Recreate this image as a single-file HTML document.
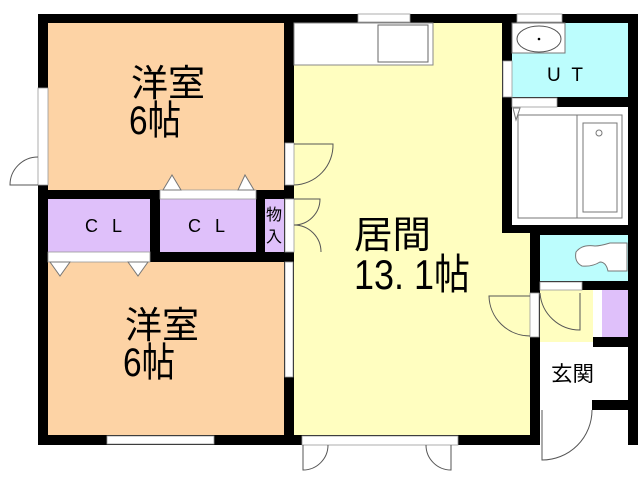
<!DOCTYPE html>
<html><head><meta charset="utf-8"><style>
html,body{margin:0;padding:0;background:#fff;width:640px;height:480px;overflow:hidden}
svg text{font-family:"Liberation Sans","Noto Sans CJK JP",sans-serif;fill:#000}
</style></head><body>
<svg width="640" height="480" viewBox="0 0 640 480" xmlns="http://www.w3.org/2000/svg">
<rect x="38" y="14" width="600" height="431" fill="#000"/>
<rect x="48" y="23" width="236" height="167" fill="#fdd3a5"/>
<rect x="48" y="199" width="102" height="53" fill="#dfc0fa"/>
<rect x="160" y="199" width="96" height="53" fill="#dfc0fa"/>
<rect x="265" y="199" width="19" height="53" fill="#dfc0fa"/>
<rect x="48" y="262" width="236" height="173" fill="#fdd3a5"/>
<rect x="294" y="23" width="208" height="412" fill="#fffec0"/>
<rect x="502" y="233" width="28" height="202" fill="#fffec0"/>
<rect x="512" y="23" width="116" height="74" fill="#bcfdfd"/>
<rect x="512" y="107" width="116" height="118" fill="#fff"/>
<rect x="518" y="115" width="104" height="103" fill="#fff" stroke="#777"/>
<line x1="577" y1="115" x2="577" y2="218" stroke="#777"/>
<rect x="583" y="123" width="34" height="89" fill="#fff" stroke="#777"/>
<circle cx="599" cy="133" r="3" fill="none" stroke="#777"/>
<path d="M513 108 L520 108 L516 120 Z" fill="#fff" stroke="#777"/>
<rect x="540" y="235" width="88" height="46" fill="#bcfdfd"/>
<path d="M627 243 L610 243 Q600 246 595 246 Q582 244 576 252 Q574 262 582 266 Q592 267 600 262 Q606 262 608 271 L627 271 Z" fill="#fff" stroke="#777"/>
<rect x="540" y="290" width="53" height="52" fill="#fffec0"/>
<rect x="593" y="290" width="9" height="47" fill="#fff"/>
<rect x="602" y="290" width="26" height="47" fill="#dfc0fa"/>
<rect x="540" y="347" width="88" height="53" fill="#fff"/>
<rect x="540" y="342" width="53" height="5" fill="#fff"/>
<rect x="540" y="400" width="52" height="10" fill="#fff"/>
<rect x="540" y="410" width="88" height="70" fill="#fff"/>
<rect x="628" y="410" width="10" height="35" fill="#000"/>
<rect x="294" y="23" width="139" height="42" fill="#fff" stroke="#888"/>
<rect x="378" y="25" width="50" height="37" fill="#fff" stroke="#666"/>
<rect x="358" y="14" width="52" height="8" fill="#fff" stroke="#999" stroke-width="0.8"/>
<rect x="517" y="14" width="45" height="8" fill="#fff" stroke="#999" stroke-width="0.8"/>
<rect x="38" y="88" width="10" height="97" fill="#fff" stroke="#999" stroke-width="0.8"/>
<rect x="107" y="436" width="107" height="8" fill="#fff" stroke="#999" stroke-width="0.8"/>
<rect x="302" y="436" width="156" height="9" fill="#fff" stroke="#999" stroke-width="0.8"/>
<rect x="285" y="262" width="8" height="115" fill="#fff" stroke="#999" stroke-width="0.8"/>
<rect x="512" y="23" width="53" height="30" fill="#fff" stroke="#777"/>
<ellipse cx="539" cy="39" rx="22" ry="13" fill="#fff" stroke="#555"/>
<circle cx="539" cy="39" r="1.3" fill="#000"/>
<rect x="503" y="61" width="9" height="36" fill="#fff" stroke="#999" stroke-width="0.8"/>
<rect x="512" y="98" width="45" height="9" fill="#fff" stroke="#999" stroke-width="0.8"/>
<rect x="540" y="282" width="42" height="8" fill="#fff" stroke="#999" stroke-width="0.8"/>
<rect x="285" y="143" width="9" height="42" fill="#fff" stroke="#999" stroke-width="0.8"/>
<path d="M294 144 L333 144 A40 40 0 0 1 294 185" fill="none" stroke="#555"/>
<rect x="285" y="199" width="9" height="53" fill="#fff" stroke="#999" stroke-width="0.8"/>
<path d="M294 199 L320 199 A26 26 0 0 1 294 225 M294 225 A27 27 0 0 1 321 252" fill="none" stroke="#555"/>
<path d="M38 157 A28 28 0 0 0 10 185 L38 185" fill="none" stroke="#555"/>
<rect x="160" y="190" width="96" height="9" fill="#fff" stroke="#999" stroke-width="0.8"/>
<path d="M163 190 L172 175 L181 190 Z M238 190 L245 175 L254 190 Z" fill="#fff" stroke="#777"/>
<rect x="48" y="252" width="102" height="10" fill="#fff" stroke="#999" stroke-width="0.8"/>
<path d="M50 262 L60 276 L70 262 Z M128 262 L138 276 L148 262 Z" fill="#fff" stroke="#777"/>
<rect x="530" y="293" width="9" height="44" fill="#fff" stroke="#999" stroke-width="0.8"/>
<path d="M530 336 A41 41 0 0 1 489 296 L530 296" fill="none" stroke="#555"/>
<path d="M540 293 A40 40 0 0 0 580 330 L580 293" fill="none" stroke="#555"/>
<path d="M542 410 L542 460 A50 50 0 0 0 592 410" fill="none" stroke="#555"/>
<path d="M303 445 L303 470 A25 25 0 0 0 328 445" fill="none" stroke="#555"/>
<path d="M451 445 L451 470 A25 25 0 0 1 426 445" fill="none" stroke="#555"/>
<!-- text -->
<text x="131" y="96" font-size="37" textLength="74" lengthAdjust="spacingAndGlyphs">洋室</text>
<text x="129" y="134" font-size="40" textLength="52" lengthAdjust="spacingAndGlyphs">6帖</text>
<text x="125" y="338" font-size="37" textLength="74" lengthAdjust="spacingAndGlyphs">洋室</text>
<text x="123" y="376" font-size="40" textLength="52" lengthAdjust="spacingAndGlyphs">6帖</text>
<text x="85" y="232" font-size="18" textLength="37" lengthAdjust="spacing">C L</text>
<text x="188" y="232" font-size="18" textLength="37" lengthAdjust="spacing">C L</text>
<text x="266" y="220" font-size="16">物</text>
<text x="266" y="242" font-size="16">入</text>
<text x="354" y="248" font-size="38" textLength="77" lengthAdjust="spacingAndGlyphs">居間</text>
<text x="354" y="289" font-size="42" textLength="116" lengthAdjust="spacingAndGlyphs">13. 1帖</text>
<text x="547" y="81" font-size="19" textLength="36" lengthAdjust="spacing">U T</text>
<text x="551" y="381" font-size="21" textLength="43" lengthAdjust="spacingAndGlyphs">玄関</text>
</svg>
</body></html>
